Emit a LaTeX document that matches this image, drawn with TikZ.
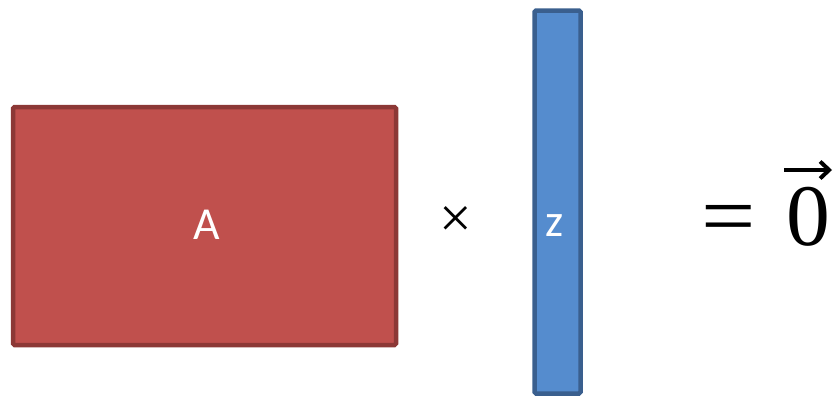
\documentclass[tikz,border=0pt]{standalone}
\usepackage{fontspec}
\setsansfont{Carlito}
\setmainfont{Liberation Serif}
\usetikzlibrary{arrows.meta}
\definecolor{redfill}{HTML}{C0504D}
\definecolor{redline}{HTML}{8C3836}
\definecolor{bluefill}{HTML}{558CCE}
\definecolor{blueline}{HTML}{3A5F8E}
\begin{document}
\begin{tikzpicture}[x=1bp,y=-1bp,
  blockbox/.style={line width=4.5bp,rounded corners=1.5bp},
  lbl/.style={font=\sffamily\fontsize{46}{54}\selectfont,text=white,inner sep=0pt},
  bigserif/.style={font=\rmfamily\fontsize{88}{96}\selectfont,inner sep=0pt,anchor=base}]
\useasboundingbox (0,0) rectangle (838,398);
\draw[blockbox,fill=redfill,draw=redline] (13,107) rectangle (396,345);
\draw[blockbox,fill=bluefill,draw=blueline] (534.5,10.5) rectangle (580.5,393.5);
\node[lbl,anchor=base] (A) at (206.5,239) {A};
\node[lbl,anchor=base] (z) at (554.7,236) {z};
\node[font=\rmfamily\fontsize{58}{66}\selectfont,inner sep=0pt] (times) at (456,222.5) {×};
\node[bigserif,xscale=1.1] (eqs) at (729,245) {=};
\node[bigserif] (zero) at (808,245) {0};
\coordinate (arrs) at (784,170);
\coordinate (arre) at (832,170);
\draw[line width=4.2bp,-{Straight Barb[length=9bp,width=17bp,line width=4bp]}] (arrs) -- (arre);
\end{tikzpicture}
\end{document}
